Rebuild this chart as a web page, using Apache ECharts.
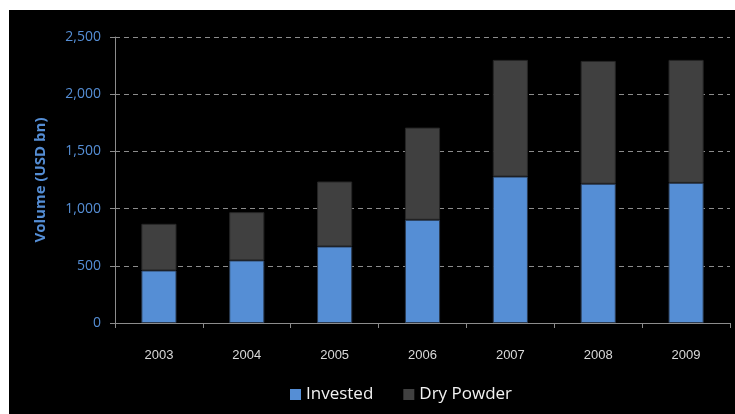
<!DOCTYPE html>
<html>
<head>
<meta charset="utf-8">
<script src="https://cdn.jsdelivr.net/npm/echarts@6/dist/echarts.min.js"></script>
<style>
html,body{margin:0;padding:0;background:#fff;width:735px;height:414px;overflow:hidden;}
#c{position:absolute;left:9px;top:10px;width:726px;height:404px;background:#000;}
</style>
</head>
<body>
<div id="c"></div>
<script>
var years = ['2003','2004','2005','2006','2007','2008','2009'];
var invested = [459, 547, 669, 902, 1280, 1217, 1225];
var dryPowder = [408, 422, 568, 806, 1020, 1074, 1075];
var yTicks = {min: 0, max: 2500, interval: 500};

var chart = echarts.init(document.getElementById('c'), null, {renderer: 'canvas'});
chart.setOption({
  backgroundColor: '#000',
  animation: false,
  grid: {left: 106, top: 27, right: 5, bottom: 91, containLabel: false},
  legend: {
    bottom: 6, left: 276,
    itemWidth: 11, itemHeight: 11, itemGap: 30,
    icon: 'rect',
    itemStyle: {borderWidth: 0},
    textStyle: {color: '#f2f2f2', fontSize: 17, fontFamily: 'Open Sans'},
    data: ['Invested', 'Dry Powder']
  },
  xAxis: {
    type: 'category',
    data: years,
    boundaryGap: true,
    axisLine: {lineStyle: {color: '#8c8c8c', width: 1}},
    axisTick: {show: true, length: 5, lineStyle: {color: '#8c8c8c'}},
    axisLabel: {color: '#d9d9d9', fontSize: 13, fontFamily: 'Liberation Sans', margin: 26}
  },
  yAxis: {
    type: 'value',
    min: yTicks.min, max: yTicks.max, interval: yTicks.interval,
    name: 'Volume (USD bn)',
    nameLocation: 'middle',
    nameGap: 67,
    nameRotate: 90,
    nameTextStyle: {color: '#558ed5', fontSize: 15, fontWeight: 'bold', fontFamily: 'Open Sans'},
    axisLine: {show: true, lineStyle: {color: '#8c8c8c', width: 1}},
    axisTick: {show: true, length: 5, lineStyle: {color: '#8c8c8c'}},
    axisLabel: {
      color: '#558ed5', fontSize: 14, fontFamily: 'Open Sans', margin: 14,
      formatter: function (v) { return v.toLocaleString('en-US'); }
    },
    splitLine: {show: true, lineStyle: {color: '#8c8c8c', type: [5, 4], width: 1}}
  },
  series: [
    {
      name: 'Invested', type: 'bar', stack: 'total',
      data: invested, barWidth: '40%',
      itemStyle: {color: '#558ed5', borderColor: '#2b3b52', borderWidth: 1}
    },
    {
      name: 'Dry Powder', type: 'bar', stack: 'total',
      data: dryPowder, barWidth: '40%',
      itemStyle: {color: '#404040', borderColor: '#262626', borderWidth: 1}
    }
  ]
});
</script>
</body>
</html>
